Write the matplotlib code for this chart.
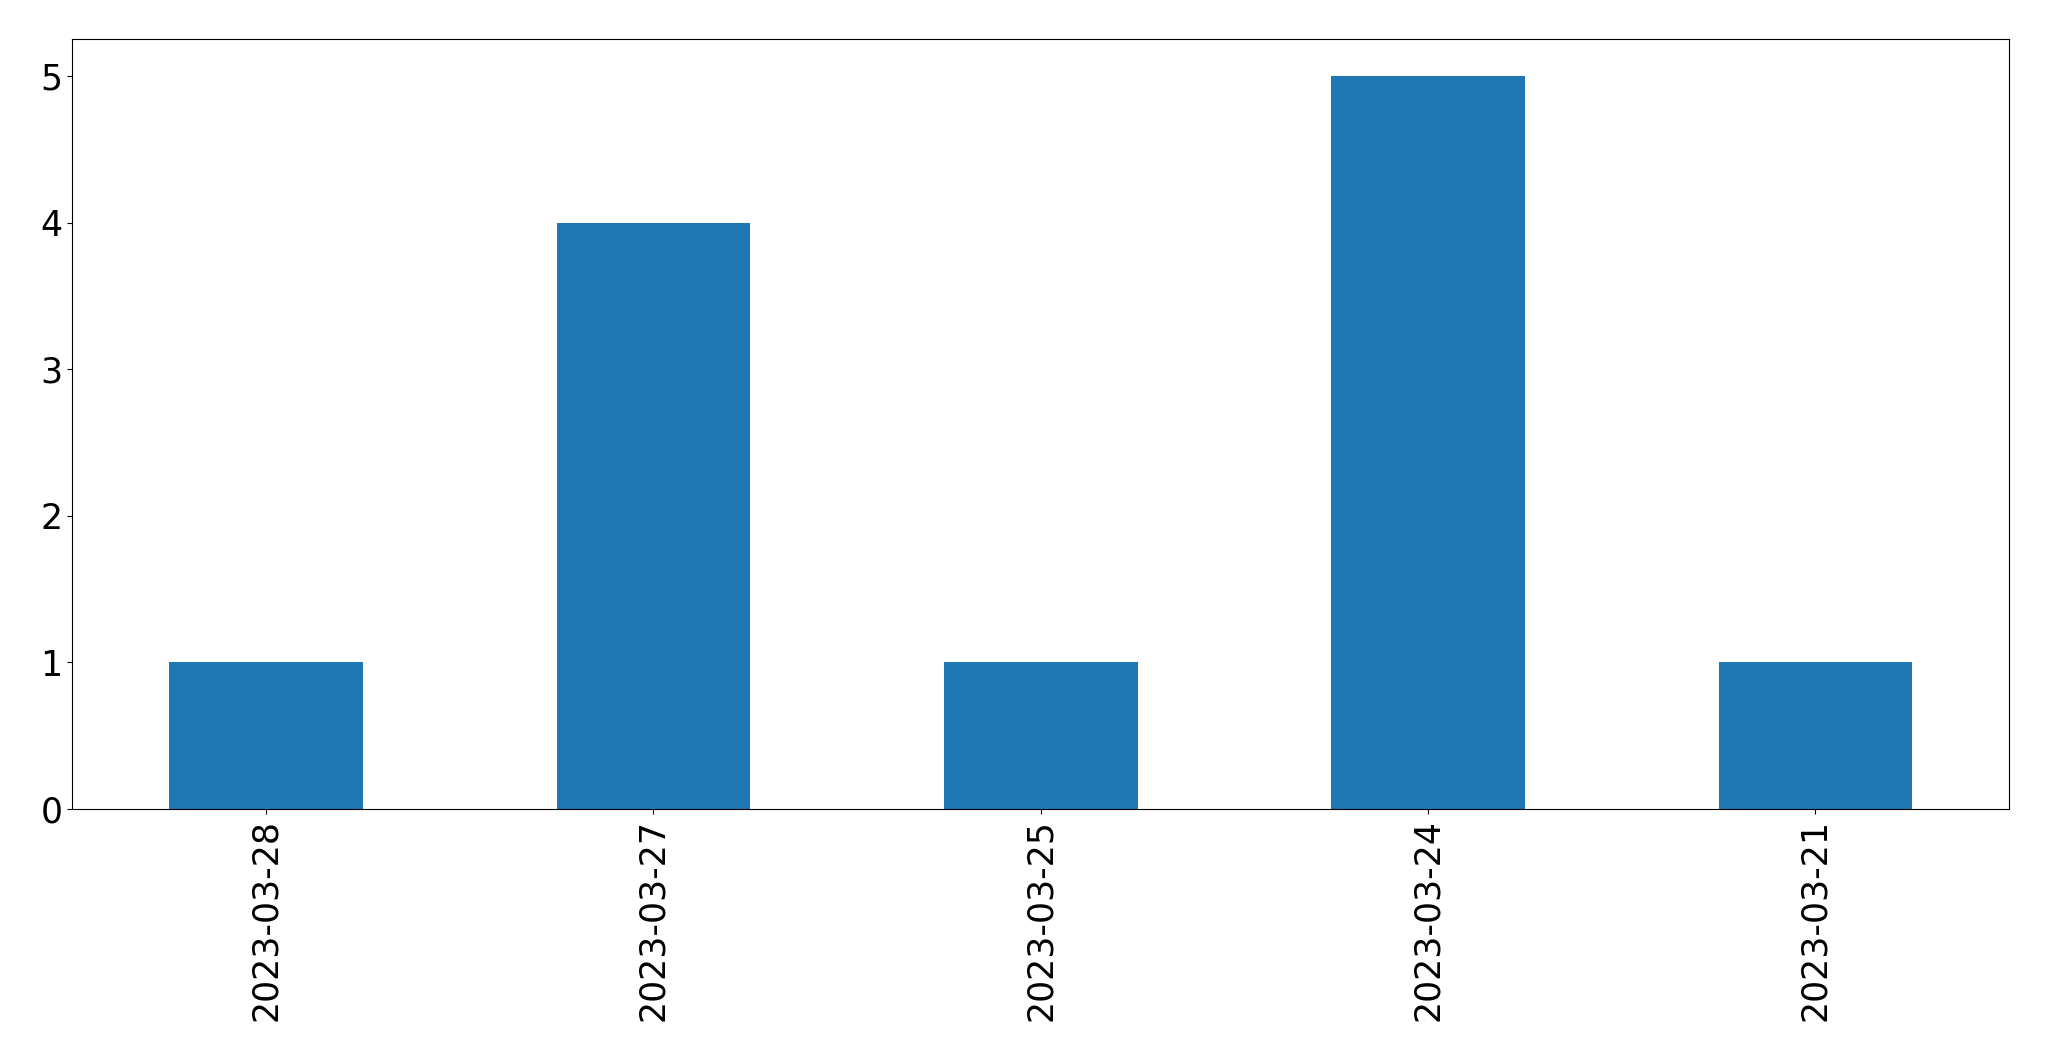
import matplotlib
matplotlib.use("Agg")
import matplotlib.pyplot as plt
import pandas as pd

dates = ['2023-03-28', '2023-03-27', '2023-03-25', '2023-03-24', '2023-03-21']
counts = [1, 4, 1, 5, 1]

s = pd.Series(counts, index=dates)

fig = plt.figure(figsize=(20.49, 10.61), dpi=100)
ax = fig.add_axes([0.0353, 0.2375, 0.9452, 0.7255])
s.plot(kind='bar', ax=ax, color='#1f77b4', fontsize=25)

plt.savefig('out.png', dpi=100)
